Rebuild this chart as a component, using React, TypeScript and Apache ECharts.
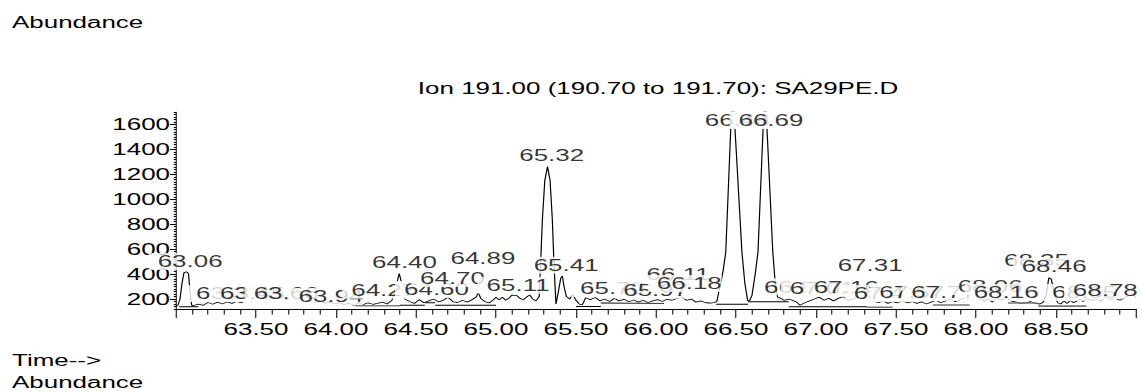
import { useEffect, useRef } from "react";
import * as echarts from "echarts";

// ---- data ----
const xMin = 63;
const xMax = 69;
const xInterval = 0.5;
const yMin = 120;
const yMax = 1700;
const yTickValues = [200, 400, 600, 800, 1000, 1200, 1400, 1600];

const trace: [number, number][] = [
  [63.0, 140], [63.012, 150], [63.025, 200], [63.038, 330], [63.05, 412], [63.065, 418], [63.078, 405], [63.088, 250], [63.098, 150],
  [63.11, 148], [63.14, 160], [63.17, 150], [63.2, 172], [63.23, 158], [63.26, 175], [63.29, 160], [63.32, 178], [63.35, 165], [63.38, 182], [63.41, 170], [63.44, 190], [63.47, 178],
  [63.5, 205], [63.53, 235], [63.56, 228], [63.59, 215], [63.61, 245], [63.63, 205], [63.66, 215], [63.69, 195], [63.72, 205], [63.75, 190],
  [63.78, 198], [63.81, 178], [63.84, 192], [63.87, 172], [63.9, 185], [63.93, 165], [63.96, 178], [63.99, 160], [64.02, 172], [64.05, 155],
  [64.08, 165], [64.11, 150], [64.14, 168], [64.17, 155], [64.2, 170], [64.23, 158], [64.26, 165], [64.29, 175], [64.32, 160], [64.35, 190], [64.375, 300], [64.395, 405], [64.41, 330], [64.43, 200],
  [64.46, 180], [64.49, 165], [64.52, 195], [64.55, 170], [64.58, 185], [64.61, 200], [64.64, 178], [64.67, 190], [64.7, 215], [64.73, 180], [64.76, 172], [64.79, 190], [64.82, 175], [64.85, 195], [64.875, 215], [64.89, 250], [64.905, 205], [64.93, 180], [64.96, 170], [64.98, 190],
  [65.0, 215], [65.02, 195], [65.04, 215], [65.06, 190], [65.08, 205], [65.1, 232], [65.13, 228], [65.15, 205], [65.17, 192], [65.19, 215], [65.21, 232], [65.23, 200], [65.25, 185], [65.27, 220], [65.28, 520], [65.29, 840], [65.305, 1150], [65.322, 1262], [65.338, 1150], [65.352, 840], [65.36, 560], [65.368, 330], [65.375, 160], [65.39, 260], [65.405, 370], [65.415, 385], [65.425, 300], [65.44, 220],
  [65.46, 200], [65.48, 235], [65.5, 190], [65.52, 160], [65.54, 155], [65.56, 210], [65.59, 195], [65.62, 212], [65.65, 185], [65.68, 200], [65.71, 180], [65.74, 205], [65.77, 185], [65.8, 198], [65.83, 178], [65.86, 192], [65.89, 175], [65.92, 190], [65.95, 172], [65.98, 185],
  [66.01, 195], [66.04, 180], [66.07, 200], [66.1, 190], [66.13, 205], [66.16, 215], [66.19, 190], [66.22, 200], [66.25, 175], [66.28, 185], [66.31, 170], [66.34, 168], [66.36, 172],
  [66.38, 180], [66.4, 300], [66.42, 430], [66.436, 577], [66.467, 1557], [66.48, 1850], [66.494, 1557], [66.537, 577], [66.555, 330], [66.573, 185], [66.585, 190], [66.6, 230], [66.62, 400], [66.6375, 577], [66.669, 1557], [66.682, 1800], [66.694, 1557], [66.73, 577], [66.745, 330], [66.76, 215], [66.78, 205], [66.8, 190],
  [66.83, 200], [66.86, 185], [66.88, 175], [66.9, 150], [66.93, 170], [66.96, 185], [66.99, 200], [67.02, 215], [67.05, 190], [67.08, 205], [67.11, 185], [67.14, 205], [67.17, 220], [67.2, 190], [67.23, 200], [67.26, 215], [67.29, 260], [67.31, 300], [67.33, 220], [67.36, 185], [67.39, 170], [67.42, 185], [67.45, 165], [67.48, 180], [67.51, 170],
  [67.54, 185], [67.57, 170], [67.6, 180], [67.63, 165], [67.66, 178], [67.69, 160], [67.72, 175], [67.75, 190], [67.78, 170], [67.81, 185], [67.84, 200], [67.87, 178], [67.9, 195], [67.93, 210], [67.96, 190], [67.99, 225],
  [68.02, 205], [68.05, 185], [68.08, 200], [68.1, 175], [68.13, 210], [68.16, 190], [68.19, 215], [68.22, 185], [68.25, 175], [68.28, 165], [68.31, 170], [68.34, 180], [68.37, 165], [68.4, 160], [68.42, 175], [68.44, 240], [68.455, 370], [68.47, 360], [68.49, 250], [68.51, 170], [68.53, 160],
  [68.55, 185], [68.57, 165], [68.59, 190], [68.61, 170], [68.63, 185], [68.65, 200], [68.67, 180], [68.69, 205], [68.72, 190], [68.75, 200], [68.78, 185], [68.81, 210], [68.84, 195], [68.87, 205], [68.9, 190], [68.93, 210], [68.96, 230], [68.985, 245], [69.0, 210],
];

const peakTimes = [
  63.06, 63.3, 63.45, 63.66, 63.94, 64.27, 64.4, 64.6, 64.7, 64.89, 65.11, 65.32, 65.41, 65.7, 65.97, 66.11,
  66.18, 66.48, 66.69, 66.85, 67.01, 67.16, 67.31, 67.41, 67.57, 67.77, 68.06, 68.16, 68.35, 68.46, 68.65, 68.78,
];
const peakLabelLevels = [
  413, 156, 156, 156, 132, 182, 410, 188, 276, 437, 222, 1266, 383, 196, 182, 308,
  236, 1545, 1545, 210, 196, 208, 381, 156, 165, 165, 213, 165, 425, 373, 165, 182,
];

const baselinesBlack: [number, number][][] = [
  [[63.02, 138], [63.14, 138]],
  [[64.12, 145], [64.4, 145]],
  [[64.4, 150], [64.555, 150]],
  [[64.555, 170], [64.62, 170]],
  [[64.62, 150], [65.0, 150]],
  [[65.5, 140], [65.655, 140]],
  [[65.655, 168], [66.05, 165]],
  [[66.375, 158], [66.575, 158]],
  [[66.575, 178], [66.83, 178]],
  [[66.83, 138], [67.32, 138]],
];
const baselinesGray: [number, number][][] = [
  [[67.32, 134], [67.48, 134]],
  [[67.73, 152], [67.96, 152]],
  [[68.2, 168], [68.38, 168]],
  [[68.39, 143], [68.69, 143]],
];

const titleText = "Ion 191.00 (190.70 to 191.70): SA29PE.D";

// ---- layout ----
const S = 1.5; // horizontal stretch of the reference
const W = 1142 / S;
const H = 392;
const FONT = "'Liberation Sans', Arial, Helvetica, sans-serif";
const FS = 17.3;

export default function App() {
  const ref = useRef<HTMLDivElement>(null);
  useEffect(() => {
    const chart = echarts.init(ref.current!, null, { renderer: "svg" });
    const baseSeries = (segs: [number, number][][], color: string, width: number) =>
      segs.map((seg) => ({
        type: "line",
        data: seg,
        symbol: "none",
        silent: true,
        lineStyle: { color, width },
        z: 3,
      }));
    chart.setOption({
      animation: false,
      backgroundColor: "#fff",
      grid: { left: 176 / S, top: 112, width: 960 / S, height: 197 },
      xAxis: {
        type: "value",
        min: xMin,
        max: xMax,
        interval: xInterval,
        axisLine: { show: true, lineStyle: { color: "#000", width: 1 } },
        axisTick: { show: true, length: 9, lineStyle: { color: "#000", width: 0.7 } },
        minorTick: { show: true, splitNumber: 5, length: 5.5, lineStyle: { color: "#000", width: 0.7 } },
        axisLabel: {
          formatter: (v: number) => v.toFixed(2),
          showMinLabel: false,
          showMaxLabel: false,
          fontSize: FS,
          fontFamily: FONT,
          color: "#000",
          margin: 12,
        },
        splitLine: { show: false },
      },
      yAxis: [
        {
          type: "value",
          min: yMin,
          max: yMax,
          axisLine: { show: true, lineStyle: { color: "#000", width: 0.7 } },
          axisTick: { show: true, customValues: yTickValues, length: 4, lineStyle: { color: "#000", width: 1 } },
          axisLabel: {
            customValues: yTickValues,
            formatter: (v: number) => String(Math.round(v)),
            fontSize: FS,
            fontFamily: FONT,
            color: "#000",
            margin: 4,
          },
          splitLine: { show: false },
        },
        {
          type: "value",
          min: yMin,
          max: yMax,
          interval: 20,
          position: "left",
          axisLine: { show: false },
          axisTick: { show: true, length: 1.5, lineStyle: { color: "#000", width: 1 } },
          axisLabel: { show: false },
          splitLine: { show: false },
        },
      ],
      series: [
        {
          type: "line",
          data: trace,
          symbol: "none",
          silent: true,
          lineStyle: { color: "#000", width: 0.8 },
          z: 2,
        },
        ...baseSeries(baselinesBlack, "#000", 0.9),
        ...baseSeries(baselinesGray, "#777", 1.6),
        {
          type: "scatter",
          silent: true,
          symbol: "circle",
          symbolSize: 1,
          itemStyle: { color: "rgba(0,0,0,0)" },
          z: 10,
          data: peakTimes.map((t, i) => ({ value: [t, peakLabelLevels[i]], name: t.toFixed(2) })),
          label: {
            show: true,
            position: "top",
            distance: 2,
            formatter: "{b}",
            fontSize: FS,
            lineHeight: 17,
            fontFamily: FONT,
            color: "#000",
            backgroundColor: "#fff",
            padding: [0, 0, 0, 6],
          },
        },
      ],
      graphic: [
        { type: "text", x: 12 / S, y: 22, style: { text: "Abundance", fontSize: FS, fontFamily: FONT, fill: "#000", textVerticalAlign: "middle" } },
        { type: "text", x: 658 / S, y: 88, style: { text: titleText, fontSize: FS, fontFamily: FONT, fill: "#000", textAlign: "center", textVerticalAlign: "middle" } },
        { type: "text", x: 12 / S, y: 360, style: { text: "Time-->", fontSize: FS, fontFamily: FONT, fill: "#000", textVerticalAlign: "middle" } },
        { type: "text", x: 12 / S, y: 382, style: { text: "Abundance", fontSize: FS, fontFamily: FONT, fill: "#000", textVerticalAlign: "middle" } },
      ],
    });
    return () => chart.dispose();
  }, []);
  return (
    <div
      ref={ref}
      style={{
        position: "fixed",
        left: 0,
        top: 0,
        width: W,
        height: H,
        transform: `scaleX(${S})`,
        transformOrigin: "0 0",
        background: "#fff",
      }}
    />
  );
}
